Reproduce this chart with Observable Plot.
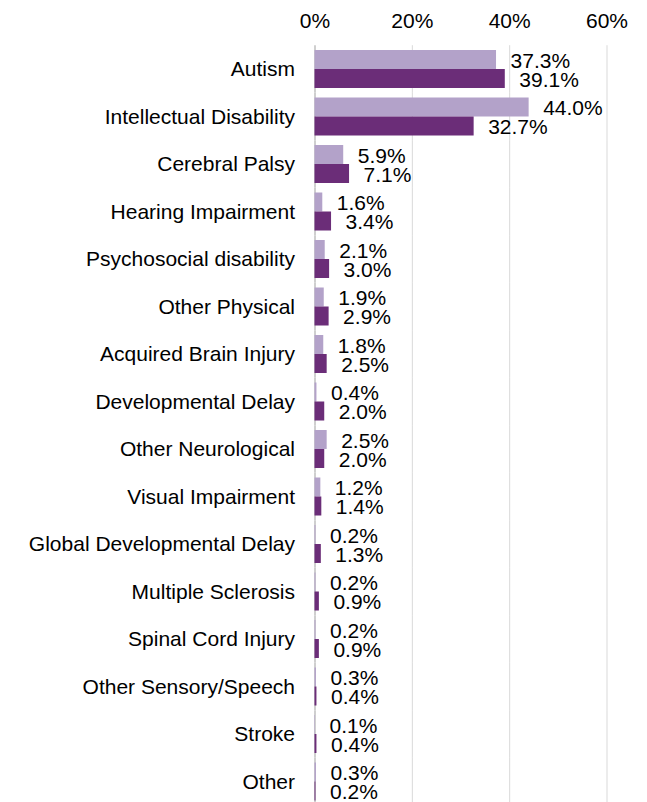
<!DOCTYPE html>
<html>
<head>
<meta charset="utf-8">
<script src="https://cdn.jsdelivr.net/npm/d3@7"></script>
<script src="https://cdn.jsdelivr.net/npm/@observablehq/plot@0.6"></script>
<style>
  html, body { margin: 0; padding: 0; background: #fff; }
</style>
</head>
<body>
<div id="chart"></div>
<script>
const categories = [
  "Autism",
  "Intellectual Disability",
  "Cerebral Palsy",
  "Hearing Impairment",
  "Psychosocial disability",
  "Other Physical",
  "Acquired Brain Injury",
  "Developmental Delay",
  "Other Neurological",
  "Visual Impairment",
  "Global Developmental Delay",
  "Multiple Sclerosis",
  "Spinal Cord Injury",
  "Other Sensory/Speech",
  "Stroke",
  "Other"
];
const seriesNames = ["Series 1", "Series 2"];
const series1 = [37.3, 44.0, 5.9, 1.6, 2.1, 1.9, 1.8, 0.4, 2.5, 1.2, 0.2, 0.2, 0.2, 0.3, 0.1, 0.3];
const series2 = [39.1, 32.7, 7.1, 3.4, 3.0, 2.9, 2.5, 2.0, 2.0, 1.4, 1.3, 0.9, 0.9, 0.4, 0.4, 0.2];
const xTicks = [0, 20, 40, 60];

const data = categories.flatMap((c, i) => [
  {category: c, series: seriesNames[0], value: series1[i]},
  {category: c, series: seriesNames[1], value: series2[i]}
]);

const font = "'Liberation Sans', Arial, sans-serif";

const chart = Plot.plot({
  width: 647,
  height: 802,
  marginLeft: 314.5,
  marginRight: 40.5,
  marginTop: 40.5,
  marginBottom: -8,
  style: {fontFamily: font, fontSize: "21px", color: "#000", background: "#fff", overflow: "hidden"},
  x: {domain: [0, 60], axis: null},
  y: {domain: seriesNames, axis: null, padding: 0, round: false},
  fy: {domain: categories, paddingInner: 0.2, paddingOuter: 0.2, round: false, axis: null},
  color: {domain: seriesNames, range: ["#b3a2c9", "#6b2d78"]},
  marks: [
    Plot.ruleX(xTicks.filter(d => d > 0), {stroke: "#d9d9d9", strokeWidth: 1, insetTop: -4.8, insetBottom: -4.8}),
    Plot.ruleX([0], {stroke: "#cfcfcf", strokeWidth: 2, insetTop: -4.8, insetBottom: -4.8}),
    Plot.barX(data, {fy: "category", y: "series", x: "value", fill: "series"}),
    Plot.text(data, {
      fy: "category", y: "series", x: "value",
      text: d => d.value.toFixed(1) + "%",
      textAnchor: "start", dx: 14, dy: 1, fontSize: 21, fill: "#000"
    }),
    Plot.axisX({anchor: "top", ticks: xTicks, tickFormat: d => d + "%", tickSize: 0, tickPadding: 23, fontSize: 21, label: null}),
    Plot.axisFy({anchor: "left", tickSize: 0, tickPadding: 20, fontSize: 21, label: null})
  ]
});

document.getElementById("chart").appendChild(chart);
</script>
</body>
</html>
